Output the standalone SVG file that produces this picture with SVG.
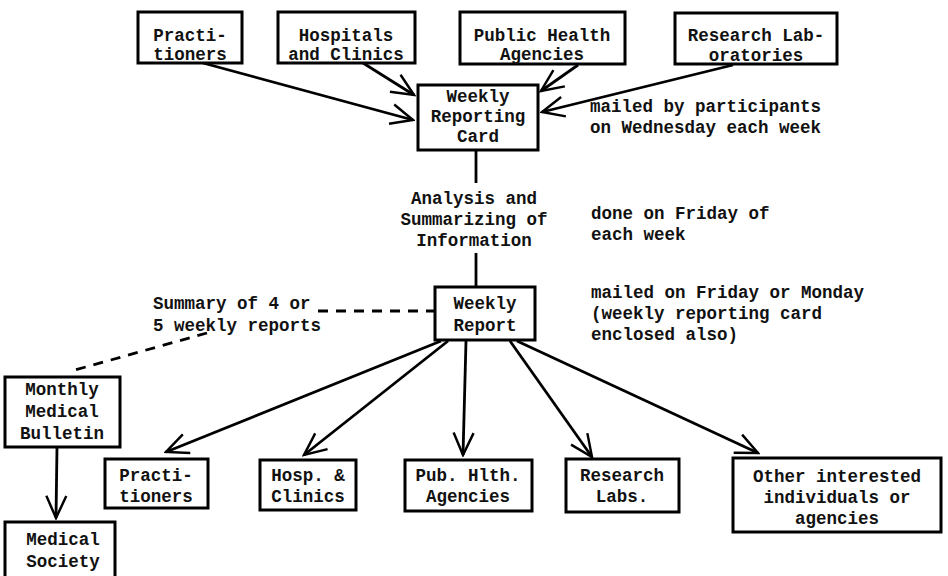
<svg xmlns="http://www.w3.org/2000/svg" width="948" height="576" viewBox="0 0 948 576">
<style>
.box{fill:#fff;stroke:#000;stroke-width:3}
text{font-family:"Liberation Mono","Courier New",monospace;font-size:17.5px;font-weight:bold;fill:#111}
.c{text-anchor:middle}
.ln{fill:none;stroke:#000;stroke-width:2.8}
.arr{fill:none;stroke:#000;stroke-width:2.8;marker-end:url(#ah)}
.dash{fill:none;stroke:#000;stroke-width:2.8;stroke-dasharray:10 8}
</style>
<defs>
<marker id="ah" viewBox="0 0 12 12" refX="11" refY="6" markerWidth="9.5" markerHeight="9.5" orient="auto" markerUnits="strokeWidth">
<path d="M1,1.5 L11,6 L1,10.5" fill="none" stroke="#000" stroke-width="1.1"/>
</marker>
</defs>
<rect width="948" height="576" fill="#fff"/>
<g id="connectors">
<path class="arr" d="M203,63 L413,120"/>
<path class="arr" d="M363,63 L414,95"/>
<path class="arr" d="M578,65 L541,91"/>
<path class="arr" d="M733,65 L542,112"/>
<path class="ln" d="M476,150 L476,183"/>
<path class="ln" d="M476,253 L476,287"/>
<path class="arr" d="M441,341 L166,452"/>
<path class="arr" d="M448,341 L304,455"/>
<path class="arr" d="M466,341 L463,455"/>
<path class="arr" d="M510,341 L592,457"/>
<path class="arr" d="M517,341 L758,453"/>
<path class="arr" d="M57,447 L56,518"/>
<path class="dash" d="M318,311 L435,311"/>
<path class="dash" d="M207,333 L75,370"/>
</g>
<g id="top-practitioners"><rect class="box" x="138" y="12" width="104" height="51"/><text class="c" x="190" y="41">Practi-</text><text class="c" x="190" y="60">tioners</text></g>
<g id="top-hospitals"><rect class="box" x="278" y="12" width="137" height="51"/><text class="c" x="346" y="41">Hospitals</text><text class="c" x="346" y="60">and Clinics</text></g>
<g id="top-public-health"><rect class="box" x="460" y="12" width="165" height="52"/><text class="c" x="542" y="41">Public Health</text><text class="c" x="542" y="60">Agencies</text></g>
<g id="top-research"><rect class="box" x="675" y="13" width="162" height="51"/><text class="c" x="756" y="41">Research Lab-</text><text class="c" x="756" y="61">oratories</text></g>
<g id="weekly-reporting-card"><rect class="box" x="418" y="85" width="120" height="65"/><text class="c" x="478" y="102">Weekly</text><text class="c" x="478" y="122">Reporting</text><text class="c" x="478" y="142">Card</text></g>
<g id="analysis"><text class="c" x="474" y="204">Analysis and</text><text class="c" x="474" y="225">Summarizing of</text><text class="c" x="474" y="246">Information</text></g>
<g id="weekly-report"><rect class="box" x="435" y="287" width="100" height="53"/><text class="c" x="485" y="309">Weekly</text><text class="c" x="485" y="331">Report</text></g>
<g id="note-mailed"><text x="590" y="112">mailed by participants</text><text x="590" y="133">on Wednesday each week</text></g>
<g id="note-done"><text x="591" y="219">done on Friday of</text><text x="591" y="240">each week</text></g>
<g id="note-mailed-report"><text x="591" y="298">mailed on Friday or Monday</text><text x="591" y="319">(weekly reporting card</text><text x="591" y="340">enclosed also)</text></g>
<g id="summary-label"><text x="153" y="309">Summary of 4 or</text><text x="153" y="331">5 weekly reports</text></g>
<g id="monthly-bulletin"><rect class="box" x="5" y="377" width="115" height="70"/><text class="c" x="62" y="395">Monthly</text><text class="c" x="62" y="417">Medical</text><text class="c" x="62" y="439">Bulletin</text></g>
<g id="medical-society"><rect class="box" x="5" y="522" width="110" height="70"/><text class="c" x="63" y="545">Medical</text><text class="c" x="63" y="567">Society</text></g>
<g id="bottom-practitioners"><rect class="box" x="105" y="459" width="103" height="49"/><text class="c" x="156" y="481">Practi-</text><text class="c" x="156" y="502">tioners</text></g>
<g id="bottom-hospitals"><rect class="box" x="260" y="460" width="96" height="50"/><text class="c" x="308" y="481">Hosp. &amp;</text><text class="c" x="308" y="502">Clinics</text></g>
<g id="bottom-public-health"><rect class="box" x="405" y="460" width="127" height="51"/><text class="c" x="468" y="481">Pub. Hlth.</text><text class="c" x="468" y="502">Agencies</text></g>
<g id="bottom-research"><rect class="box" x="566" y="459" width="113" height="53"/><text class="c" x="622" y="481">Research</text><text class="c" x="622" y="502">Labs.</text></g>
<g id="bottom-other"><rect class="box" x="733" y="458" width="208" height="74"/><text class="c" x="837" y="482">Other interested</text><text class="c" x="837" y="503">individuals or</text><text class="c" x="837" y="524">agencies</text></g>
</svg>
